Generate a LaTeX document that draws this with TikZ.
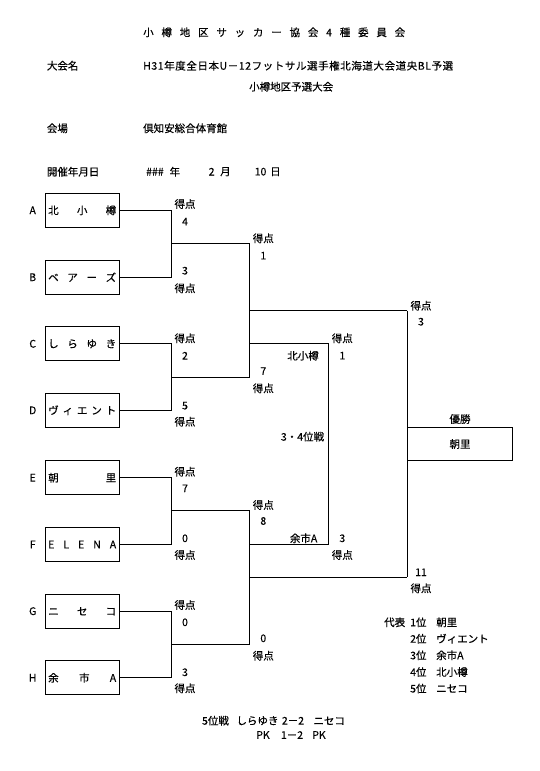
\documentclass[tikz,border=0pt]{standalone}
\usepackage{fontspec}
\setmainfont{Noto Sans CJK JP}[FakeBold=0.3]
\newfontfamily\widefont{Noto Sans CJK JP}[FakeBold=0.3,LetterSpace=5.5]
\newcommand\myfs{\fontsize{10.5}{12}\selectfont}
\begin{document}
\begin{tikzpicture}[x=1pt,y=-1pt,
  lab/.style={font=\myfs, inner sep=0pt, anchor=center},
  labl/.style={font=\myfs, inner sep=0pt, anchor=west},
  team/.style={draw, line width=0.9pt, minimum width=73.7pt, minimum height=34pt, inner sep=0pt, font=\myfs},
  br/.style={line width=0.9pt}]
\useasboundingbox (0,0) rectangle (539,771);
% header
\node[labl] (title) at (143,32.3) {\makebox[262pt][s]{小 樽 地 区 サ ッ カ ー 協 会 4 種 委 員 会}};
\node[labl] (h1) at (46.7,65.7) {大会名};
\node[labl,font=\myfs\widefont] (h1v) at (143,65.7) {H31年度全日本U－12フットサル選手権北海道大会道央BL予選};
\node[labl] (h1w) at (249,86.7) {小樽地区予選大会};
\node[labl] (h2) at (46.7,128.3) {会場};
\node[labl] (h2v) at (143,128.3) {倶知安総合体育館};
\node[labl] (h3) at (46.7,171.7) {開催年月日};
\node[labl] (h3y) at (146,171.7) {\#\#\#};
\node[labl] (h3yk) at (169.5,171.7) {年};
\node[labl] (h3m) at (208.5,171.7) {2};
\node[labl] (h3mk) at (220,171.7) {月};
\node[labl] (h3d) at (254.5,171.7) {10};
\node[labl] (h3dk) at (270,171.7) {日};
% teams
\node[team] (A) at (82.2,210.3) {\makebox[68pt][s]{北 小 樽}};
\node[team] (B) at (82.2,277.2) {\makebox[68pt][s]{ベ ア ー ズ}};
\node[team] (C) at (82.2,343.8) {\makebox[68pt][s]{し ら ゆ き}};
\node[team] (D) at (82.2,410.3) {\makebox[68pt][s]{ヴ ィ エ ン ト}};
\node[team] (E) at (82.2,477.7) {\makebox[68pt][s]{朝 里}};
\node[team] (F) at (82.2,544.5) {\makebox[68pt][s]{E L E N A}};
\node[team] (G) at (82.2,611.2) {\makebox[68pt][s]{ニ セ コ}};
\node[team] (H) at (82.2,677.8) {\makebox[68pt][s]{余 市 A}};
\foreach \n/\y in {A/210.3,B/277.2,C/343.8,D/410.3,E/477.7,F/544.5,G/611.2,H/677.8}
  \node[lab] (l\n) at (32.7,\y) {\n};
% brackets
\coordinate (jAB) at (171.7,243.3);
\coordinate (jCD) at (171.7,377.3);
\coordinate (jEF) at (171.7,510.7);
\coordinate (jGH) at (171.7,644.5);
\coordinate (sT1) at (249.7,243.3);
\coordinate (sT2) at (249.7,377.3);
\coordinate (sB1) at (249.7,510.7);
\coordinate (sB2) at (249.7,644.5);
\coordinate (sTw) at (249.7,310.5);
\coordinate (sTl) at (249.7,343.7);
\coordinate (sBl) at (249.7,544.3);
\coordinate (sBw) at (249.7,577.3);
\coordinate (fT) at (407.3,310.5);
\coordinate (fB) at (407.3,577.3);
\coordinate (tT) at (328.5,343.7);
\coordinate (tB) at (328.5,544.3);
\draw[br] (A.east) -| (jAB) |- (B.east);
\draw[br] (C.east) -| (jCD) |- (D.east);
\draw[br] (E.east) -| (jEF) |- (F.east);
\draw[br] (G.east) -| (jGH) |- (H.east);
\draw[br] (jAB) -- (sT1);
\draw[br] (jCD) -- (sT2);
\draw[br] (jEF) -- (sB1);
\draw[br] (jGH) -- (sB2);
\draw[br] (sT1) -- (sT2);
\draw[br] (sB1) -- (sB2);
\draw[br] (sTw) -- (fT);
\draw[br] (sBw) -- (fB);
\draw[br] (sTl) -- (tT);
\draw[br] (sBl) -- (tB);
\draw[br] (tT) -- (tB);
\draw[br] (fT) -- (fB);
% winner
\node[lab] (wl) at (460,419) {優勝};
\node[draw, line width=0.9pt, minimum width=105.4pt, minimum height=33.4pt, inner sep=0pt, font=\myfs] (W) at (460,444) {朝里};
% round 1 scores
\node[lab] (pA) at (185,204) {得点};
\node[lab] (sA) at (185,221.7) {4};
\node[lab] (sB) at (185,270.7) {3};
\node[lab] (pB) at (185,288.3) {得点};
\node[lab] (pC) at (185,338.3) {得点};
\node[lab] (sC) at (185,355.7) {2};
\node[lab] (sD) at (185,405.7) {5};
\node[lab] (pD) at (185,421.7) {得点};
\node[lab] (pE) at (185,471.7) {得点};
\node[lab] (sE) at (185,488.3) {7};
\node[lab] (sF) at (185,538.3) {0};
\node[lab] (pF) at (185,555) {得点};
\node[lab] (pG) at (185,605) {得点};
\node[lab] (sG) at (185,622.3) {0};
\node[lab] (sH) at (185,672.3) {3};
\node[lab] (pH) at (185,688.3) {得点};
% semis
\node[lab] (pS1) at (263.3,238.3) {得点};
\node[lab] (sS1) at (263.3,255.7) {1};
\node[lab] (sS2) at (263.3,371) {7};
\node[lab] (pS2) at (263.3,388.3) {得点};
\node[lab] (pS3) at (263.3,505) {得点};
\node[lab] (sS3) at (263.3,521) {8};
\node[lab] (sS4) at (263.3,638.3) {0};
\node[lab] (pS4) at (263.3,655.7) {得点};
% third place
\node[lab] (pT1) at (342.3,338.3) {得点};
\node[lab] (sT1l) at (342.3,355.7) {1};
\node[lab,anchor=east] (nT1) at (319,355.7) {北小樽};
\node[lab,anchor=east] (t34) at (324.3,436.7) {3・4位戦};
\node[lab,anchor=east] (nT2) at (317.5,538.3) {余市A};
\node[lab] (sT2l) at (342.3,538.3) {3};
\node[lab] (pT2) at (342.3,555) {得点};
% final
\node[lab] (pF1) at (421,305.7) {得点};
\node[lab] (sF1) at (421,321.7) {3};
\node[lab] (sF2) at (421,572.3) {11};
\node[lab] (pF2) at (421,588.3) {得点};
% ranks
\node[labl] (rep) at (384,622.3) {代表};
\node[labl] (r1) at (410,622.3) {1位};
\node[labl] (r1n) at (436,622.3) {朝里};
\node[labl] (r2) at (410,638.7) {2位};
\node[labl] (r2n) at (436,638.7) {ヴィエント};
\node[labl] (r3) at (410,655.3) {3位};
\node[labl] (r3n) at (436,655.3) {余市A};
\node[labl] (r4) at (410,672) {4位};
\node[labl] (r4n) at (436,672) {北小樽};
\node[labl] (r5) at (410,688.5) {5位};
\node[labl] (r5n) at (436,688.5) {ニセコ};
% bottom
\node[lab] (f5a) at (215.5,720.7) {5位戦};
\node[lab] (f5b) at (257.5,720.7) {しらゆき};
\node[lab] (f5c) at (293,720.7) {2－2};
\node[lab] (f5d) at (329.2,720.7) {ニセコ};
\node[lab] (pka) at (263,735) {PK};
\node[lab] (pkb) at (292,735) {1－2};
\node[lab] (pkc) at (319,735) {PK};
\end{tikzpicture}
\end{document}
